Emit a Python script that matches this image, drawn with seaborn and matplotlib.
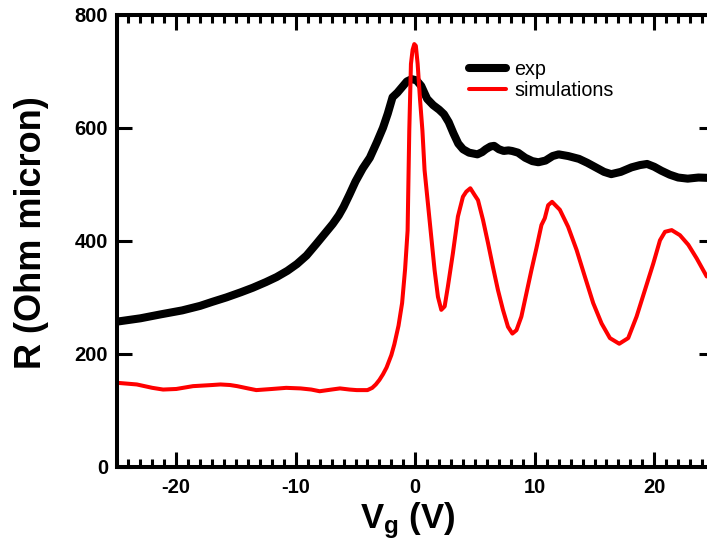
import numpy as np
import pandas as pd
import matplotlib
matplotlib.use("Agg")
import matplotlib.pyplot as plt
from matplotlib.ticker import MultipleLocator
import seaborn as sns

# ---- data ----
exp_x = [-25.0, -23.0, -21.3, -19.5, -18.0, -17.0, -15.8, -14.6, -13.6, -12.5, -11.6,
         -10.7, -9.9, -9.1, -8.3, -7.6, -6.9, -6.4, -6.0, -5.5, -5.0, -4.4, -3.8, -3.2,
         -2.7, -2.3, -1.9, -1.5, -1.1, -0.7, -0.3, 0.1, 0.5, 0.8, 1.0, 1.5, 2.0, 2.4,
         2.8, 3.2, 3.6, 4.0, 4.5, 5.2, 5.6, 5.9, 6.3, 6.6, 7.0, 7.4, 7.8, 8.1, 8.6,
         9.2, 9.8, 10.3, 10.9, 11.5, 12.0, 12.8, 13.7, 14.4, 15.1, 15.8, 16.4, 17.2,
         18.1, 18.8, 19.4, 20.0, 20.6, 21.3, 22.0, 22.8, 23.7, 25.0]
exp_y = [257, 263, 270, 277, 285, 292, 300, 309, 317, 327, 336,
         347, 359, 374, 394, 412, 430, 445, 460, 482, 505, 528, 547, 575,
         600, 625, 654, 662, 672, 682, 686, 684, 674, 660, 651, 640, 632, 624,
         610, 590, 572, 562, 556, 553, 557, 562, 567, 568, 562, 559, 560, 559, 556,
         547, 541, 539, 542, 550, 553, 550, 545, 538, 530, 522, 518, 522,
         530, 534, 536, 531, 524, 517, 512, 510, 512, 511]

sim_x = [-25.0, -23.3, -22.0, -21.1, -20.0, -18.6, -17.0, -16.3, -15.5, -14.9, -14.0,
         -13.3, -12.0, -10.8, -9.6, -8.7, -8.0, -7.0, -6.3, -5.5, -4.9, -4.0, -3.6,
         -3.3, -3.0, -2.7, -2.4, -2.0, -1.75, -1.4, -1.1, -0.85, -0.64, -0.5, -0.36,
         -0.22, -0.08, 0.05, 0.2, 0.4, 0.6, 0.78, 1.06, 1.34, 1.62, 1.9, 2.18, 2.46,
         2.73, 3.15, 3.57, 3.99, 4.27, 4.61, 4.97, 5.25, 5.67, 6.09, 6.5, 6.92, 7.34,
         7.76, 8.13, 8.47, 8.88, 9.3, 9.72, 10.14, 10.56, 10.84, 11.12, 11.45, 12.1,
         12.79, 13.5, 14.19, 14.89, 15.59, 16.29, 17.07, 17.82, 18.52, 19.22, 19.92,
         20.48, 20.9, 21.46, 22.15, 22.85, 23.55, 24.39]
sim_y = [149, 146, 140, 137, 138, 143, 145, 146, 145, 143, 139,
         136, 138, 140, 139, 137, 134, 137, 139, 137, 136, 136, 140,
         146, 154, 164, 176, 198, 217, 250, 290, 350, 418, 595, 713,
         738, 748, 745, 713, 650, 595, 525, 466, 407, 348, 301, 278, 284,
         319, 378, 443, 478, 487, 493, 481, 472, 437, 396, 354, 313, 278,
         248, 236, 242, 266, 307, 348, 387, 428, 440, 463, 469, 455,
         425, 384, 337, 290, 254, 228, 218, 228, 266, 313, 360,
         401, 416, 419, 410, 393, 369, 337]

x_major = [-20, -10, 0, 10, 20]
y_major = [0, 200, 400, 600, 800]

exp_df = pd.DataFrame({"Vg": exp_x, "R": exp_y})
sim_df = pd.DataFrame({"Vg": sim_x, "R": sim_y})

sns.set_style("ticks")
plt.rcParams["font.family"] = ["Liberation Sans", "DejaVu Sans"]
plt.rcParams["mathtext.fontset"] = "custom"
plt.rcParams["mathtext.rm"] = "Liberation Sans"
plt.rcParams["mathtext.bf"] = "Liberation Sans:bold"
plt.rcParams["axes.unicode_minus"] = False
for k in ["text.color", "axes.labelcolor", "xtick.color", "ytick.color", "axes.edgecolor"]:
    plt.rcParams[k] = "black"

W, H = 707, 552
fig = plt.figure(figsize=(W / 100, H / 100), dpi=100)
left, right, bottom, top = 116.5, 714.0, 467.0, 14.7
ax = fig.add_axes([left / W, 1 - bottom / H, (right - left) / W, (bottom - top) / H])

sns.lineplot(data=exp_df, x="Vg", y="R", ax=ax, color="black", linewidth=5.8,
             sort=False, estimator=None, label="exp",
             solid_capstyle="round", solid_joinstyle="round")
sns.lineplot(data=sim_df, x="Vg", y="R", ax=ax, color="#ff0000", linewidth=2.9,
             sort=False, estimator=None, label="simulations",
             solid_capstyle="round", solid_joinstyle="round")

ax.set_xlim(-25, 25)
ax.set_ylim(0, 800)
ax.set_xticks(x_major)
ax.set_yticks(y_major)
ax.xaxis.set_minor_locator(MultipleLocator(1))

for s in ax.spines.values():
    s.set_linewidth(2.9)
    s.set_color("black")

ax.tick_params(axis="both", which="major", direction="in", length=10.5, width=2.2,
               top=True, right=True, labelsize=14.5, pad=8, color="black",
               labelcolor="black")
ax.tick_params(axis="x", which="minor", direction="in", length=6, width=2.2,
               top=True, bottom=True)
ax.tick_params(axis="y", which="minor", left=False, right=False)
for lab in ax.get_xticklabels() + ax.get_yticklabels():
    lab.set_fontweight("bold")
ax.tick_params(axis="y", pad=6)

ax.set_xlabel(r"$\mathbf{V_g}$ (V)", fontsize=25, fontweight="bold", color="black")
ax.set_ylabel("R (Ohm micron)", fontsize=26, fontweight="bold", color="black")
ax.xaxis.set_label_coords((408 - left) / (right - left), (bottom - 500) / (bottom - top))
ax.yaxis.set_label_coords((49 - left) / (right - left), (bottom - 233) / (bottom - top))

leg = ax.legend(loc="upper left", bbox_to_anchor=(469 / W, 1 - 60 / H),
                bbox_transform=fig.transFigure, frameon=False, fontsize=14.2,
                handlelength=1.9, handletextpad=0.4, labelspacing=0.08,
                borderpad=0, borderaxespad=0)
for line in leg.get_lines():
    line.set_solid_capstyle("round")

fig.savefig("out.png", dpi=100)
